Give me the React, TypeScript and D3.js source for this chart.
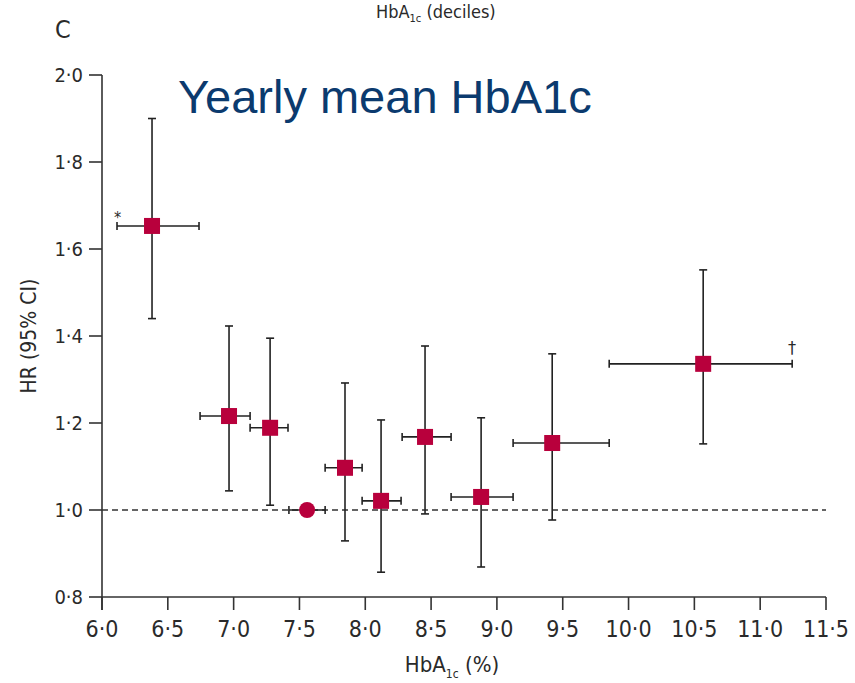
import React from "react";
import * as d3 from "d3";

// HbA1c decile groups: mean HbA1c (x) with range, hazard ratio (y) with 95% CI
const hba1cMean = [6.38, 6.965, 7.277, 7.558, 7.846, 8.12, 8.454, 8.88, 9.42, 10.567];
const hba1cLow = [6.114, 6.745, 7.125, 7.42, 7.695, 7.976, 8.28, 8.652, 9.123, 9.853];
const hba1cHigh = [6.737, 7.125, 7.413, 7.695, 7.976, 8.272, 8.652, 9.123, 9.853, 11.243];
const hr = [1.653, 1.216, 1.189, 1.0, 1.097, 1.021, 1.168, 1.03, 1.154, 1.336];
const hrLow = [1.44, 1.044, 1.011, 1.0, 0.929, 0.857, 0.991, 0.869, 0.977, 1.152];
const hrHigh = [1.9, 1.423, 1.395, 1.0, 1.292, 1.207, 1.377, 1.212, 1.359, 1.552];
const isReference = [false, false, false, true, false, false, false, false, false, false];

const xTicks = [6.0, 6.5, 7.0, 7.5, 8.0, 8.5, 9.0, 9.5, 10.0, 10.5, 11.0, 11.5];
const yTicks = [0.8, 1.0, 1.2, 1.4, 1.6, 1.8, 2.0];

const W = 855;
const H = 683;
const markColor = "#b8003c";
const inkColor = "#2a2a2a";
const condensed = "'DejaVu Sans Condensed', 'Liberation Sans Narrow', 'DejaVu Sans', sans-serif";

const fmt = (v: number) => v.toFixed(1).replace(".", "\u00b7");

export default function App() {
  const x = d3.scaleLinear().domain([6.0, 11.5]).range([102, 826]);
  const y = d3.scaleLinear().domain([0.8, 2.0]).range([597, 75]);
  const cap = 4;
  const tickLen = 13;

  return (
    <svg
      width={W}
      height={H}
      style={{ position: "absolute", left: 0, top: 0, background: "#fff" }}
      fontFamily={condensed}
    >
      {/* panel letter and header */}
      <text x={55} y={38} fontSize={25} fill={inkColor}>
        C
      </text>
      <text x={376} y={18} fontSize={18} fill={inkColor}>
        HbA<tspan fontSize={11} dy={4}>1c</tspan>
        <tspan dy={-4}> (deciles)</tspan>
      </text>
      <text
        x={178}
        y={113}
        fontSize={47}
        fill="#0b3a6e"
        fontFamily="'Liberation Sans', Arial, sans-serif"
      >
        Yearly mean HbA1c
      </text>

      {/* reference line at HR = 1 */}
      <line
        x1={x(6.0)}
        x2={x(11.5)}
        y1={y(1.0)}
        y2={y(1.0)}
        stroke="#333"
        strokeWidth={1.3}
        strokeDasharray="6,4"
      />

      {/* y axis */}
      <line x1={x(6.0)} x2={x(6.0)} y1={y(2.0)} y2={y(0.8) + tickLen} stroke="#333" strokeWidth={1.6} />
      {yTicks.map((t) => (
        <g key={"y" + t}>
          <line x1={x(6.0) - tickLen} x2={x(6.0)} y1={y(t)} y2={y(t)} stroke="#333" strokeWidth={1.6} />
          <text
            x={x(6.0) - 19}
            y={y(t)}
            dy="0.36em"
            textAnchor="end"
            fontSize={20}
            fill={inkColor}
          >
            {fmt(t)}
          </text>
        </g>
      ))}
      <text
        transform={`translate(36,${(y(2.0) + y(0.8)) / 2}) rotate(-90)`}
        textAnchor="middle"
        fontSize={21}
        fill={inkColor}
      >
        HR (95% CI)
      </text>

      {/* x axis */}
      <line x1={x(6.0)} x2={x(11.5)} y1={y(0.8)} y2={y(0.8)} stroke="#333" strokeWidth={1.6} />
      {xTicks.map((t) => (
        <g key={"x" + t}>
          <line x1={x(t)} x2={x(t)} y1={y(0.8)} y2={y(0.8) + tickLen} stroke="#333" strokeWidth={1.6} />
          <text x={x(t)} y={637} textAnchor="middle" fontSize={23} fill={inkColor}>
            {fmt(t)}
          </text>
        </g>
      ))}
      <text x={452} y={672} textAnchor="middle" fontSize={22} fill={inkColor}>
        HbA<tspan fontSize={12} dy={6}>1c</tspan>
        <tspan dy={-6}> (%)</tspan>
      </text>

      {/* error bars and markers */}
      {hba1cMean.map((m, i) => {
        const cx = x(m);
        const cy = y(hr[i]);
        return (
          <g key={"p" + i}>
            <g stroke="#222" strokeWidth={1.6}>
              <line x1={x(hba1cLow[i])} x2={x(hba1cHigh[i])} y1={cy} y2={cy} />
              <line x1={x(hba1cLow[i])} x2={x(hba1cLow[i])} y1={cy - cap} y2={cy + cap} />
              <line x1={x(hba1cHigh[i])} x2={x(hba1cHigh[i])} y1={cy - cap} y2={cy + cap} />
              {!isReference[i] && (
                <>
                  <line x1={cx} x2={cx} y1={y(hrLow[i])} y2={y(hrHigh[i])} />
                  <line x1={cx - cap} x2={cx + cap} y1={y(hrLow[i])} y2={y(hrLow[i])} />
                  <line x1={cx - cap} x2={cx + cap} y1={y(hrHigh[i])} y2={y(hrHigh[i])} />
                </>
              )}
            </g>
            {isReference[i] ? (
              <circle cx={cx} cy={cy} r={8} fill={markColor} />
            ) : (
              <rect x={cx - 8} y={cy - 8} width={16} height={16} fill={markColor} />
            )}
          </g>
        );
      })}

      {/* significance markers */}
      <text x={x(hba1cLow[0]) - 3} y={y(hr[0]) - 3} fontSize={16} fill={inkColor}>
        *
      </text>
      <text
        x={x(hba1cHigh[9])}
        y={y(hr[9]) - 10}
        textAnchor="middle"
        fontSize={18}
        fill={inkColor}
      >
        †
      </text>
    </svg>
  );
}
